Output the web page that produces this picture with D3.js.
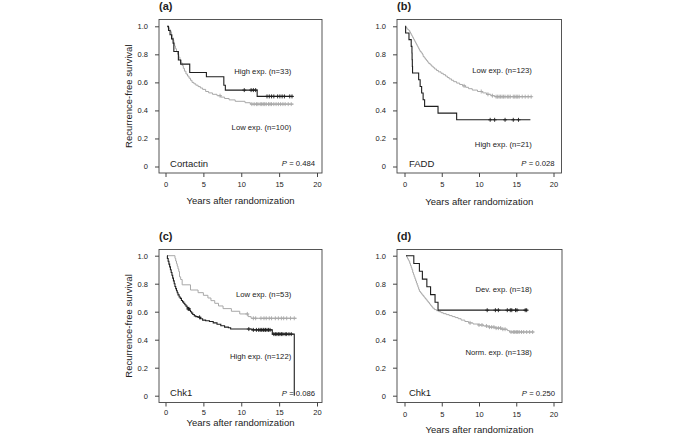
<!DOCTYPE html>
<html>
<head>
<meta charset="utf-8">
<script src="https://cdn.jsdelivr.net/npm/d3@7"></script>
<style>
  body { margin: 0; background: #fff; }
  svg text { font-family: "Liberation Sans", Arial, sans-serif; fill: #222; }
</style>
</head>
<body>
<svg width="685" height="438"></svg>
<script>
const xTicks = [0, 5, 10, 15, 20];
const yTicks = [0, 0.2, 0.4, 0.6, 0.8, 1];

const panelTags = ["(a)", "(b)", "(c)", "(d)"];
const genes = ["Cortactin", "FADD", "Chk1", "Chk1"];
const pValues = ["0.484", "0.028", "0.086", "0.250"];

// (a) Cortactin
const aHighLabel = "High exp. (n=33)";
const aHighT = [0.4, 0.6, 0.8, 1.0, 1.1, 1.7, 2.0, 3.2, 5.4, 7.7, 7.9, 12.1];
const aHighS = [0.97, 0.94, 0.91, 0.88, 0.82, 0.76, 0.73, 0.67, 0.64, 0.58, 0.545, 0.50];
const aHighCens = [10.4, 11.3, 11.6, 11.9, 13.4, 13.7, 14.0, 14.3, 14.8, 15.1, 15.4, 15.7, 16.4, 16.7];
const aLowLabel = "Low exp. (n=100)";
const aLowT = [0.3, 0.5, 0.6, 0.7, 0.8, 0.9, 1.0, 1.1, 1.2, 1.3, 1.45, 1.6, 1.75, 1.9, 2.05, 2.2, 2.35, 2.5, 2.7, 2.9, 3.1, 3.3, 3.5, 3.75, 4.0, 4.3, 4.6, 4.9, 5.3, 5.7, 6.2, 6.8, 7.3, 7.8, 8.4, 9.2, 10.5, 11.2];
const aLowS = [0.99, 0.98, 0.97, 0.96, 0.94, 0.92, 0.90, 0.88, 0.86, 0.84, 0.82, 0.80, 0.78, 0.76, 0.74, 0.72, 0.70, 0.68, 0.66, 0.645, 0.63, 0.615, 0.60, 0.59, 0.58, 0.57, 0.56, 0.55, 0.535, 0.525, 0.515, 0.505, 0.495, 0.485, 0.475, 0.465, 0.455, 0.445];
const aLowCens = [7.2, 11.4, 11.7, 12.0, 12.2, 12.5, 12.7, 12.9, 13.1, 13.3, 13.6, 13.8, 14.0, 14.3, 14.6, 14.9, 15.2, 15.5, 15.8, 16.2, 16.6];

// (b) FADD
const bLowLabel = "Low exp. (n=123)";
const bLowT = [0.2, 0.35, 0.5, 0.6, 0.7, 0.8, 0.9, 1.0, 1.1, 1.2, 1.3, 1.4, 1.5, 1.6, 1.7, 1.8, 1.9, 2.0, 2.1, 2.25, 2.4, 2.5, 2.65, 2.8, 2.95, 3.1, 3.25, 3.45, 3.65, 3.85, 4.05, 4.3, 4.55, 4.9, 5.2, 5.5, 5.75, 6.0, 6.3, 6.6, 7.0, 7.4, 7.8, 8.2, 8.6, 9.1, 9.8, 10.5, 11.0, 11.6, 12.1];
const bLowS = [0.99, 0.98, 0.975, 0.97, 0.96, 0.95, 0.94, 0.93, 0.92, 0.91, 0.90, 0.89, 0.88, 0.87, 0.86, 0.85, 0.84, 0.83, 0.82, 0.81, 0.80, 0.785, 0.775, 0.765, 0.755, 0.745, 0.735, 0.725, 0.715, 0.705, 0.695, 0.685, 0.675, 0.665, 0.655, 0.645, 0.635, 0.625, 0.615, 0.605, 0.595, 0.585, 0.575, 0.565, 0.555, 0.545, 0.535, 0.525, 0.515, 0.505, 0.498];
const bLowCens = [8.0, 10.3, 11.2, 11.8, 12.3, 12.5, 12.7, 12.9, 13.1, 13.3, 13.5, 13.8, 14.0, 14.2, 14.6, 14.8, 15.0, 15.2, 15.4, 15.8, 16.2, 16.6, 17.0];
const bHighLabel = "High exp. (n=21)";
const bHighT = [0.15, 0.6, 0.9, 1.0, 1.02, 1.05, 1.08, 1.9, 2.1, 2.3, 2.5, 2.7, 4.5, 7.0];
const bHighS = [0.952, 0.905, 0.857, 0.81, 0.762, 0.714, 0.667, 0.619, 0.571, 0.524, 0.476, 0.429, 0.381, 0.333];
const bHighCens = [11.5, 12.1, 13.5, 14.6, 15.3];

// (c) Chk1
const cLowLabel = "Low exp. (n=53)";
const cLowT = [1.25, 1.35, 1.45, 1.55, 1.65, 1.75, 1.85, 2.0, 2.2, 3.3, 4.3, 5.0, 5.6, 6.0, 6.5, 7.0, 7.6, 8.7, 9.8, 10.9, 11.3];
const cLowS = [0.981, 0.962, 0.943, 0.925, 0.906, 0.887, 0.849, 0.83, 0.792, 0.755, 0.736, 0.717, 0.698, 0.679, 0.66, 0.641, 0.622, 0.603, 0.584, 0.565, 0.553];
const cLowCens = [10.8, 11.6, 11.9, 12.6, 13.0, 13.3, 13.7, 14.0, 14.5, 14.9, 15.3, 15.6, 16.0, 16.5, 17.0];
const cHighLabel = "High exp. (n=122)";
const cHighT = [0.25, 0.35, 0.45, 0.55, 0.65, 0.75, 0.85, 0.95, 1.05, 1.15, 1.25, 1.35, 1.45, 1.55, 1.65, 1.8, 1.95, 2.1, 2.25, 2.4, 2.55, 2.7, 2.85, 3.0, 3.15, 3.3, 3.45, 3.6, 3.8, 4.0, 4.3, 4.6, 4.9, 5.3, 5.8, 6.3, 6.8, 7.3, 7.8, 8.3, 8.6, 11.4, 14.1, 17.0];
const cHighS = [0.98, 0.96, 0.94, 0.92, 0.90, 0.88, 0.86, 0.84, 0.82, 0.80, 0.78, 0.765, 0.75, 0.735, 0.72, 0.705, 0.695, 0.68, 0.67, 0.66, 0.65, 0.64, 0.63, 0.62, 0.61, 0.60, 0.59, 0.58, 0.57, 0.565, 0.56, 0.55, 0.54, 0.535, 0.53, 0.52, 0.51, 0.50, 0.49, 0.485, 0.476, 0.47, 0.44, 0];
const cHighCens = [3.0, 3.1, 4.5, 11.0, 11.6, 12.0, 12.3, 12.5, 12.7, 12.9, 13.0, 13.2, 13.4, 13.6, 13.8, 14.3, 14.5, 14.7, 14.9, 15.1, 15.3, 15.5, 15.8, 16.0, 16.3, 16.6];

// (d) Chk1 deviation
const dDevLabel = "Dev. exp. (n=18)";
const dDevT = [1.25, 2.0, 2.4, 3.0, 3.5, 4.1, 4.5];
const dDevS = [0.944, 0.889, 0.833, 0.778, 0.722, 0.667, 0.611];
const dDevCens = [11.1, 12.2, 12.6, 13.8, 14.2, 14.4, 14.9, 15.1, 16.2, 16.4];
const dNormLabel = "Norm. exp. (n=138)";
const dNormT = [0.3, 0.4, 0.5, 0.6, 0.7, 0.8, 0.9, 1.0, 1.1, 1.2, 1.3, 1.4, 1.5, 1.6, 1.7, 1.8, 1.9, 2.0, 2.15, 2.3, 2.45, 2.6, 2.75, 2.9, 3.05, 3.2, 3.35, 3.5, 3.65, 3.8, 4.0, 4.3, 4.6, 4.9, 5.2, 5.6, 6.0, 6.4, 6.8, 7.2, 7.6, 8.1, 8.6, 9.2, 9.9, 10.6, 11.3, 12.2, 13.0, 13.8, 14.1];
const dNormS = [0.99, 0.98, 0.97, 0.96, 0.945, 0.93, 0.915, 0.90, 0.88, 0.865, 0.85, 0.835, 0.82, 0.805, 0.79, 0.775, 0.76, 0.745, 0.735, 0.725, 0.715, 0.705, 0.695, 0.685, 0.675, 0.665, 0.655, 0.645, 0.635, 0.625, 0.615, 0.607, 0.60, 0.593, 0.586, 0.579, 0.572, 0.565, 0.558, 0.55, 0.54, 0.53, 0.52, 0.512, 0.505, 0.498, 0.49, 0.483, 0.475, 0.465, 0.455];
const dNormCens = [8.8, 10.0, 10.4, 11.0, 11.4, 11.7, 12.0, 12.3, 12.6, 12.9, 13.2, 13.5, 14.3, 14.6, 14.8, 15.0, 15.2, 15.4, 15.7, 16.0, 16.4, 16.8, 17.2];

const BLACK = "#1e1e1e", GREY = "#a8a8a8";

const panels = [
  { box: [159, 322, 19.5, 173], xr: [165.5, 317], yr: [166.5, 26.3], yTitle: true, xTitleY: 204, pad: 5,
    curves: [
      { T: aLowT, S: aLowS, C: aLowCens, start: 0.2, end: 16.9, color: GREY },
      { T: aHighT, S: aHighS, C: aHighCens, start: 0.2, end: 16.8, color: BLACK }],
    labels: [[aHighLabel, 16.6, 0.682], [aLowLabel, 16.6, 0.28]] },
  { box: [397, 561.5, 19.5, 173], xr: [404.5, 553.5], yr: [166.5, 26.3], yTitle: false, xTitleY: 205, pad: 5,
    curves: [
      { T: bLowT, S: bLowS, C: bLowCens, start: 0.1, end: 17.1, color: GREY },
      { T: bHighT, S: bHighS, C: bHighCens, start: 0.1, end: 16.9, color: BLACK }],
    labels: [[bLowLabel, 17.1, 0.684], [bHighLabel, 17.1, 0.16]] },
  { box: [159, 322, 249.5, 402.5], xr: [165.5, 317], yr: [395.7, 255.7], yTitle: true, xTitleY: 426, pad: 3.5,
    curves: [
      { T: cLowT, S: cLowS, C: cLowCens, start: 0.2, end: 17.3, color: GREY },
      { T: cHighT, S: cHighS, C: cHighCens, start: 0.2, end: 17.0, color: BLACK }],
    labels: [[cLowLabel, 16.6, 0.726], [cHighLabel, 16.6, 0.28]] },
  { box: [397, 562, 249.5, 402.5], xr: [404.5, 553.5], yr: [395.7, 255.7], yTitle: false, xTitleY: 433, pad: 5,
    curves: [
      { T: dNormT, S: dNormS, C: dNormCens, start: 0.2, end: 17.4, color: GREY },
      { T: dDevT, S: dDevS, C: dDevCens, start: 0.2, end: 16.5, color: BLACK }],
    labels: [[dDevLabel, 17.1, 0.76], [dNormLabel, 17.1, 0.307]] }
];

const svg = d3.select("svg");

function survAt(t, T, S) {
  let s = 1;
  T.forEach((ti, i) => { if (ti <= t) s = S[i]; });
  return s;
}

panels.forEach((p, k) => {
  const [left, right, top, bottom] = p.box;
  const x = d3.scaleLinear().domain([0, 20]).range(p.xr);
  const y = d3.scaleLinear().domain([0, 1]).range(p.yr);
  const g = svg.append("g");

  // AXES
  const xAxis = g.append("g")
    .attr("transform", `translate(0,${bottom})`)
    .call(d3.axisBottom(x).tickValues(xTicks).tickSize(4).tickPadding(p.pad));
  const yAxis = g.append("g")
    .attr("transform", `translate(${left},0)`)
    .call(d3.axisLeft(y).tickValues(yTicks).tickSize(4).tickPadding(7)
      .tickFormat(d => d === 0 ? "0" : d3.format(".1f")(d)));
  [xAxis, yAxis].forEach(a => {
    a.select(".domain").remove();
    a.selectAll("line").attr("stroke", "#444");
    a.selectAll("text").attr("font-size", 7.5).attr("fill", "#222");
  });

  g.append("rect")
    .attr("x", left).attr("y", top)
    .attr("width", right - left).attr("height", bottom - top)
    .attr("fill", "none").attr("stroke", "#444").attr("stroke-width", 0.9);

  // CURVES
  const line = d3.line().curve(d3.curveStepAfter)
    .x(d => x(d[0])).y(d => y(d[1]));

  p.curves.forEach(c => {
    const pts = [[c.start, 1]].concat(c.T.map((t, i) => [t, c.S[i]]));
    pts.push([c.end, c.S[c.S.length - 1]]);
    g.append("path")
      .attr("d", line(pts))
      .attr("fill", "none")
      .attr("stroke", c.color)
      .attr("stroke-width", c.color === BLACK ? 1.1 : 1);

    g.append("g").selectAll("path")
      .data(c.C)
      .join("path")
      .attr("transform", t => `translate(${x(t)},${y(survAt(t, c.T, c.S))})`)
      .attr("d", "M-2,0H2M0,-2V2")
      .attr("stroke", c.color)
      .attr("stroke-width", 0.9);
  });

  // TEXT
  p.labels.forEach(([txt, lx, ly]) => {
    g.append("text")
      .attr("x", x(lx)).attr("y", y(ly))
      .attr("dy", "0.35em")
      .attr("text-anchor", "end")
      .attr("font-size", 7.7)
      .text(txt);
  });

  g.append("text")
    .attr("x", x(0.6)).attr("y", bottom - 6.5)
    .attr("font-size", 9.5)
    .text(genes[k]);

  const pt = g.append("text")
    .attr("x", right - 7).attr("y", bottom - 7)
    .attr("text-anchor", "end")
    .attr("font-size", 7.7);
  pt.append("tspan").attr("font-style", "italic").text("P");
  pt.append("tspan").text(" = " + pValues[k]);

  g.append("text")
    .attr("x", left).attr("y", top - 9.5)
    .attr("font-size", 11).attr("font-weight", "bold")
    .text(panelTags[k]);

  g.append("text")
    .attr("x", (left + right) / 2).attr("y", p.xTitleY)
    .attr("text-anchor", "middle")
    .attr("font-size", 9.5)
    .text("Years after randomization");

  if (p.yTitle) {
    g.append("text")
      .attr("transform", `translate(131.5,${(top + bottom) / 2}) rotate(-90)`)
      .attr("text-anchor", "middle")
      .attr("font-size", 9.5)
      .text("Recurrence-free survival");
  }
});
</script>
</body>
</html>
